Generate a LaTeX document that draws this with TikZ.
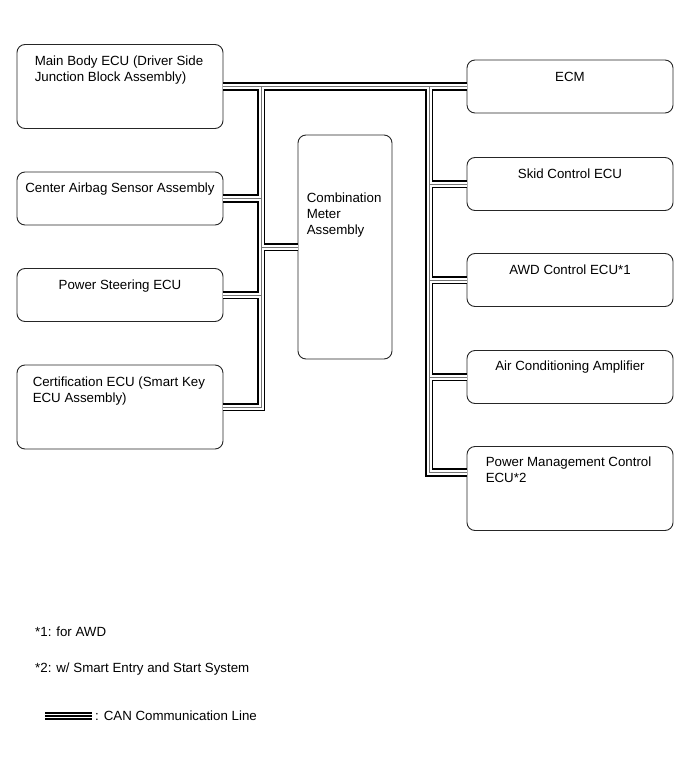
\documentclass[tikz,border=0pt]{standalone}
\usepackage{fontspec}
\setmainfont{Liberation Sans}
\newcommand{\ecufont}{\fontsize{13.3}{16}\selectfont}

\begin{document}
\begin{tikzpicture}
    \tikzset{x=1pt, y=-1pt}
    \tikzstyle{ecu}=[rectangle, draw=black!85, line width=0.9pt, rounded corners=8pt, minimum width=206pt, minimum height=53pt, inner sep=0pt]
    \tikzstyle{bigecu}=[ecu, minimum height=84pt]
    \tikzstyle{txt}=[inner sep=0pt, font=\ecufont, align=left]
    \tikzstyle{can}=[line width=1.8pt, double=white, double distance=5pt]
    \tikzstyle{canmid}=[line width=0.7pt, black!55]

    \useasboundingbox (0,0) rectangle (691,757);

    % left column
    \draw (120.0,  86.5)    node[bigecu]    (mainbody)  {};
    \draw (120.0, 198.5)    node[ecu]       (airbag)    {};
    \draw (120.0, 295.0)    node[ecu]       (psteer)    {};
    \draw (120.0, 407.0)    node[bigecu]    (cert)      {};

    % meter
    \draw (345.0, 247.0)    node[ecu, minimum width=94pt, minimum height=224pt] (meter) {};

    % right column
    \draw (570.0,  86.5)    node[ecu]       (ecm)       {};
    \draw (570.0, 184.0)    node[ecu]       (skid)      {};
    \draw (570.0, 280.0)    node[ecu]       (awd)       {};
    \draw (570.0, 377.0)    node[ecu]       (aircon)    {};
    \draw (570.0, 488.5)    node[bigecu]    (pmgmt)     {};

    % texts
    \draw ([xshift=18pt, yshift=-12pt]mainbody.north west)  node[txt, anchor=north west] (mainbody-t) {Main Body ECU (Driver Side\\Junction Block Assembly)};
    \draw ([yshift=-11pt]airbag.north)                      node[txt, anchor=north]      (airbag-t)   {Center Airbag Sensor Assembly};
    \draw ([yshift=-12pt]psteer.north)                      node[txt, anchor=north]      (psteer-t)   {Power Steering ECU};
    \draw ([xshift=16pt, yshift=-12pt]cert.north west)      node[txt, anchor=north west] (cert-t)     {Certification ECU (Smart Key\\ECU Assembly)};
    \draw ([xshift=9pt, yshift=-58pt]meter.north west)      node[txt, anchor=north west] (meter-t)    {Combination\\Meter\\Assembly};
    \draw ([yshift=-12pt]ecm.north)                         node[txt, anchor=north]      (ecm-t)      {ECM};
    \draw ([yshift=-12pt]skid.north)                        node[txt, anchor=north]      (skid-t)     {Skid Control ECU};
    \draw ([yshift=-12pt]awd.north)                         node[txt, anchor=north]      (awd-t)      {AWD Control ECU*1};
    \draw ([yshift=-11pt]aircon.north)                      node[txt, anchor=north]      (aircon-t)   {Air Conditioning Amplifier};
    \draw ([xshift=19pt, yshift=-11pt]pmgmt.north west)     node[txt, anchor=north west] (pmgmt-t)    {Power Management Control\\ECU*2};

    % CAN bus
    \coordinate (lbus) at (261, 86.5);
    \coordinate (rbus) at (429, 86.5);
    \foreach \w in {can, canmid}
        \draw[\w] (mainbody.east) -- (ecm.west)
            (lbus) |- (cert.east)
            (airbag.east) -- (airbag.east -| lbus)
            (psteer.east) -- (psteer.east -| lbus)
            (meter.west) -- (meter.west -| lbus)
            (rbus) |- ([yshift=16pt]pmgmt.west)
            (skid.west) -- (skid.west -| rbus)
            (awd.west) -- (awd.west -| rbus)
            (aircon.west) -- (aircon.west -| rbus);

    % notes
    \draw (35, 632)     node[txt, anchor=west]  (note1) {*1: for AWD};
    \draw (35, 669)     node[txt, anchor=west]  (note2) {*2: w/ Smart Entry and Start System};

    % legend
    \coordinate (lg-a) at (45, 716);
    \coordinate (lg-b) at (92, 716);
    \draw[can, double distance=4.6pt] (lg-a) -- (lg-b);
    \draw[canmid, black, line width=1.6pt] (lg-a) -- (lg-b);
    \draw (95, 716)     node[txt, anchor=west]  (lg-t)  {: CAN Communication Line};
\end{tikzpicture}
\end{document}
